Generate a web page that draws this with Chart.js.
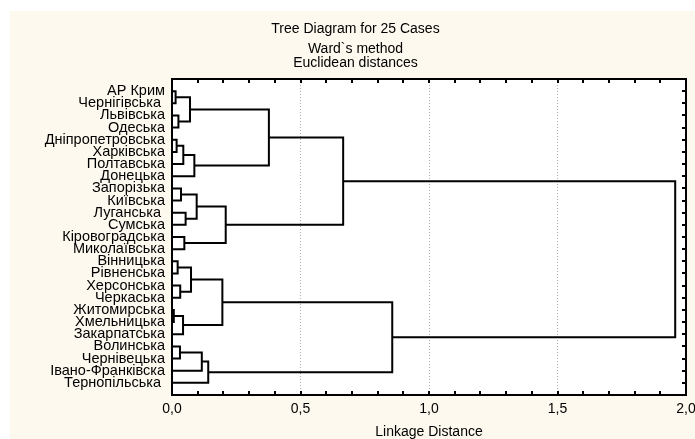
<!DOCTYPE html>
<html>
<head>
<meta charset="utf-8">
<script src="https://cdn.jsdelivr.net/npm/chart.js@4"></script>
<style>
  html, body { margin: 0; padding: 0; background: #fff; }
  #wrap { position: absolute; left: 10px; top: 11px; width: 685px; height: 428px; background: #fdf9ef; }
</style>
</head>
<body>
<div id="wrap"><canvas id="myChart"></canvas></div>
<script>
// Листки дерева (зверху вниз)
var leafLabels = ['АР Крим', 'Чернігівська ', 'Львівська', 'Одеська', 'Дніпропетровська', 'Харківська',
    'Полтавська', 'Донецька', 'Запорізька', 'Київська', 'Луганська ', 'Сумська', 'Кіровоградська',
    'Миколаївська', 'Вінницька', 'Рівненська', 'Херсонська', 'Черкаська', 'Житомирська', 'Хмельницька',
    'Закарпатська', 'Волинська', 'Чернівецька', 'Івано-Франківска', 'Тернопільська '];

// Кроки об'єднання: вузол 25 + k = mergeA[k] + mergeB[k] на відстані mergeDist[k]
var mergeA = [18, 0, 4, 14, 2, 21, 16, 8, 25, 27, 12, 10, 26, 28, 34, 32, 30, 41, 38, 40, 37, 45, 43, 46];
var mergeB = [19, 1, 5, 15, 3, 22, 17, 9, 20, 6, 13, 11, 29, 31, 7, 36, 23, 24, 33, 35, 39, 44, 42, 47];
var mergeDist = [0.007, 0.014, 0.018, 0.022, 0.025, 0.031, 0.032, 0.035, 0.043, 0.044, 0.048, 0.053,
    0.070, 0.074, 0.087, 0.096, 0.116, 0.141, 0.196, 0.209, 0.377, 0.666, 0.857, 1.958];

// Підписи осі X
var xTickValues = [0, 0.5, 1, 1.5, 2];
var xTickLabels = ['0,0', '0,5', '1,0', '1,5', '2,0'];

// Будуємо "скоби" дендрограми
var nodeY = leafLabels.map(function (_, i) { return i; });
var nodeX = leafLabels.map(function () { return 0; });
var links = [];
for (var k = 0; k < mergeDist.length; k++) {
    var a = mergeA[k], b = mergeB[k], h = mergeDist[k];
    links.push({
        data: [
            { x: nodeX[a], y: nodeY[a] },
            { x: h, y: nodeY[a] },
            { x: h, y: nodeY[b] },
            { x: nodeX[b], y: nodeY[b] }
        ],
        borderColor: '#000',
        borderWidth: 2,
        borderJoinStyle: 'miter',
        pointRadius: 0,
        fill: false,
        tension: 0,
        clip: false
    });
    nodeY.push((nodeY[a] + nodeY[b]) / 2);
    nodeX.push(h);
}

// Біле поле графіка, рамка та внутрішні засічки
var framePlugin = {
    id: 'frame',
    beforeDraw: function (chart) {
        var ar = chart.chartArea, c = chart.ctx;
        c.save();
        c.fillStyle = '#fff';
        c.fillRect(ar.left, ar.top, ar.width, ar.height);
        c.restore();
    },
    afterDraw: function (chart) {
        var ar = chart.chartArea, c = chart.ctx, sx = chart.scales.x, sy = chart.scales.y;
        c.save();
        c.strokeStyle = '#000';
        c.lineWidth = 2;
        c.beginPath();
        for (var v = 1; v < 20; v++) {
            var px = Math.round(sx.getPixelForValue(v / 10));
            c.moveTo(px, ar.top); c.lineTo(px, ar.top + 4);
            c.moveTo(px, ar.bottom); c.lineTo(px, ar.bottom - 4);
        }
        leafLabels.forEach(function (_, i) {
            var py = Math.round(sy.getPixelForValue(i));
            c.moveTo(ar.right, py); c.lineTo(ar.right - 4, py);
        });
        c.stroke();
        c.strokeRect(ar.left, ar.top, ar.width, ar.height);
        c.restore();
    }
};

Chart.defaults.color = '#000';
Chart.defaults.font.family = '"Liberation Sans", Arial, sans-serif';

var ctx = document.getElementById('myChart').getContext('2d');
var chart = new Chart(ctx, {
    type: 'line',
    data: { datasets: links },
    plugins: [framePlugin],
    options: {
        responsive: true,
        maintainAspectRatio: false,
        animation: false,
        events: [],
        layout: { padding: { left: 15, right: 9, top: 0, bottom: 0 } },
        plugins: {
            legend: { display: false },
            tooltip: { enabled: false },
            title: {
                display: true,
                text: 'Tree Diagram for 25 Cases',
                font: { size: 14, weight: 'normal', lineHeight: 1 },
                padding: { top: 11, bottom: 6 }
            },
            subtitle: {
                display: true,
                text: ['Ward`s method', 'Euclidean distances'],
                color: '#000',
                font: { size: 14, weight: 'normal', lineHeight: 1 },
                padding: { top: 0, bottom: 9 }
            }
        },
        scales: {
            x: {
                type: 'linear',
                min: 0,
                max: 2,
                afterBuildTicks: function (s) {
                    s.ticks = xTickValues.map(function (v) { return { value: v }; });
                },
                afterFit: function (s) { s.paddingLeft = 0; s.paddingRight = 0; },
                ticks: {
                    padding: 7,
                    maxRotation: 0,
                    font: { size: 14, lineHeight: 1 },
                    callback: function (v, i) { return xTickLabels[i]; }
                },
                grid: {
                    drawTicks: false,
                    lineWidth: 1,
                    color: function (c) {
                        return (c.tick && c.tick.value > 0 && c.tick.value < 2) ? '#b0b0b0' : 'rgba(0,0,0,0)';
                    }
                },
                border: { display: false, dash: [1, 2] },
                title: {
                    display: true,
                    text: 'Linkage Distance',
                    font: { size: 14, lineHeight: 1 },
                    padding: { top: 2, bottom: 0 }
                }
            },
            y: {
                type: 'linear',
                reverse: true,
                min: -1,
                max: 25,
                afterBuildTicks: function (s) {
                    s.ticks = leafLabels.map(function (_, i) { return { value: i }; });
                },
                afterFit: function (s) { s.width = 147; },
                ticks: {
                    autoSkip: false,
                    padding: 7,
                    font: { size: 14.5, lineHeight: 1 },
                    callback: function (v, i) { return leafLabels[i]; }
                },
                grid: { display: false, drawTicks: false },
                border: { display: false }
            }
        }
    }
});
</script>
</body>
</html>
